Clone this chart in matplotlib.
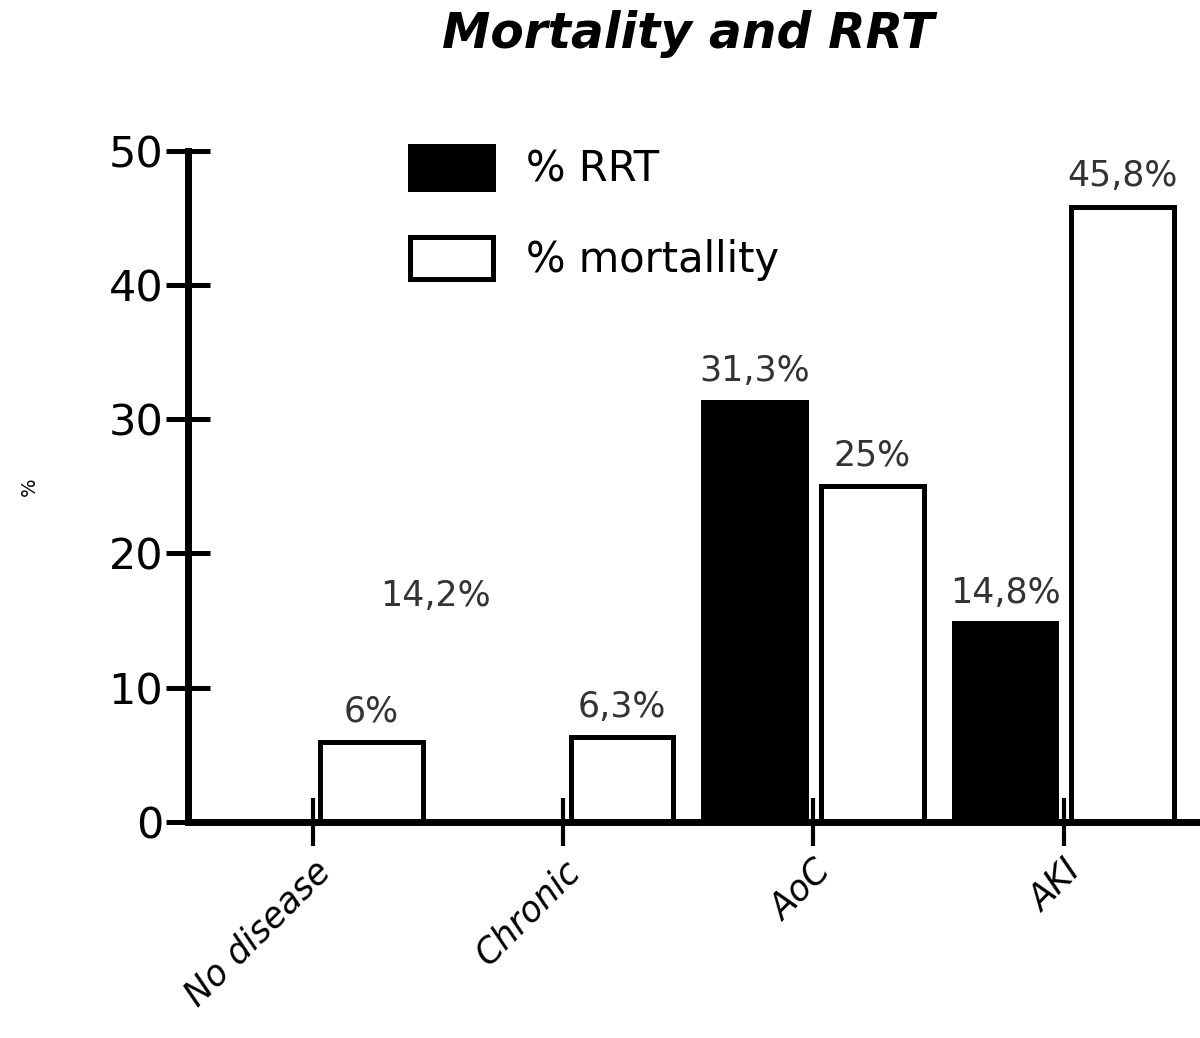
import numpy as np
from matplotlib import pyplot as plt

categories = ["No disease", "Chronic", "AoC", "AKI"]
rrt = [0, 0, 31.3, 14.8]
mortality = [6, 6.3, 25, 45.8]
rrt_labels = ["14,2%", None, "31,3%", "14,8%"]
mort_labels = ["6%", "6,3%", "25%", "45,8%"]

plt.rcParams['font.family'] = ['DejaVu Sans']

fig = plt.figure(figsize=(12, 10.38), dpi=100)
ax = fig.add_axes([0.157, 0.208, 0.843, 0.647])

x = np.arange(len(categories))
w = 0.41
off = 0.235
lw = 3.6
ax.bar(x - off, rrt, w, color="black", edgecolor="black", linewidth=lw, label="% RRT")
ax.bar(x + off, mortality, w, color="white", edgecolor="black", linewidth=lw, label="% mortallity")

fs = 25
for i in range(len(categories)):
    ax.text(x[i] + off, mortality[i] + 1.0, mort_labels[i], ha="center", va="bottom",
            fontsize=fs, color="#333333")
    if rrt_labels[i] is None:
        continue
    if rrt[i] > 0:
        ax.text(x[i] - off, rrt[i] + 1.0, rrt_labels[i], ha="center", va="bottom",
                fontsize=fs, color="#333333")
    else:
        # floating label in the original
        ax.text(x[i] + 0.49, 16.8, rrt_labels[i], ha="center", va="center",
                fontsize=fs, color="#333333")

ax.set_xlim(-0.496, 3.544)
ax.set_ylim(0, 50)
ax.set_yticks([0, 10, 20, 30, 40, 50])
ax.set_xticks(x)
ax.set_xticklabels(categories, rotation=45, ha="right", rotation_mode="anchor",
                   fontsize=25, style="italic")
ax.tick_params(axis="y", direction="inout", length=32, width=3.6, labelsize=31, pad=2)
ax.tick_params(axis="x", direction="inout", length=34, width=3, pad=6)

for s in ["top", "right"]:
    ax.spines[s].set_visible(False)
ax.spines["left"].set_linewidth(5)
ax.spines["bottom"].set_linewidth(5)
ax.spines["left"].set_zorder(0.5)

ax.set_ylabel("%", fontsize=14, labelpad=50)
fig.suptitle("Mortality and RRT", x=0.573, y=0.99, fontsize=35, style="italic",
             fontweight="bold")

fig.legend(loc="upper left", bbox_to_anchor=(0.31, 0.895), frameon=False, fontsize=30,
           handlelength=2.0, handleheight=1.2, labelspacing=1.1, handletextpad=0.8)

fig.savefig("out.png")
